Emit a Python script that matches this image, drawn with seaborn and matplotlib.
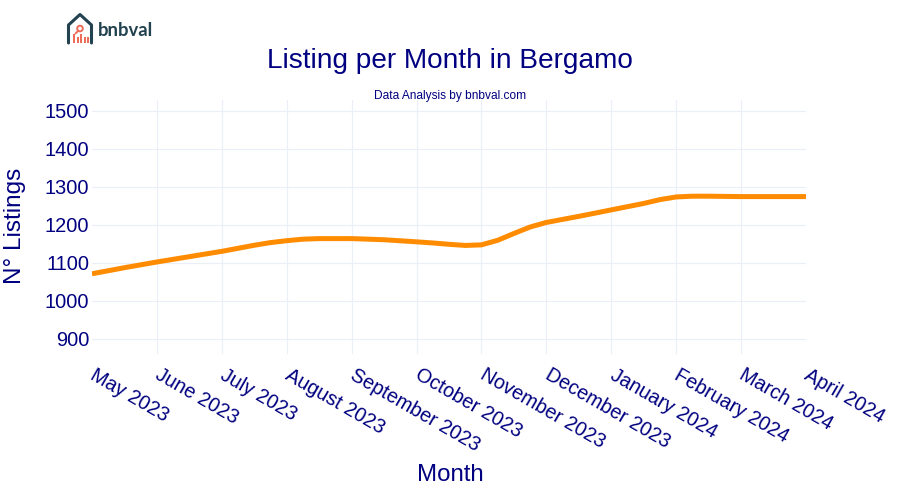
import matplotlib
matplotlib.use('Agg')
import pandas as pd
import seaborn as sns
import matplotlib.pyplot as plt
from matplotlib.patches import Circle, Rectangle

months = ['May 2023', 'June 2023', 'July 2023', 'August 2023', 'September 2023', 'October 2023',
          'November 2023', 'December 2023', 'January 2024', 'February 2024', 'March 2024', 'April 2024']
y_ticks = [900, 1000, 1100, 1200, 1300, 1400, 1500]

# closer together where the smoothed curve bends
month_pos = [0, 0.5, 1, 1.5, 2, 2.5, 2.75, 3, 3.25, 3.5, 4, 4.5, 5, 5.25, 5.5, 5.75, 6, 6.25, 6.5, 6.75, 7,
             7.5, 8, 8.5, 8.75, 9, 9.25, 9.5, 10, 11]
listings = [1071, 1087, 1102, 1116, 1130, 1146, 1153, 1158, 1162, 1163.5, 1163.5, 1160.5, 1155, 1152, 1148.5,
            1145.5, 1147, 1159, 1177, 1194, 1206, 1222, 1239, 1256, 1266, 1273, 1275, 1275, 1274, 1274]

navy = '#000080'
orange = '#FF8C00'
grid_col = '#EBF0F8'
dark_logo = '#23424F'
red_logo = '#EE6C5A'

sns.set_theme(style='white')
plt.rcParams['font.family'] = ['Liberation Sans', 'DejaVu Sans']

df = pd.DataFrame({'month': month_pos, 'listings': listings})

fig = plt.figure(figsize=(9, 5), dpi=100)
ax = fig.add_axes([92 / 900, 1 - 354 / 500, (806 - 92) / 900, (354 - 100) / 500])

sns.lineplot(data=df, x='month', y='listings', ax=ax, color=orange, linewidth=3.6,
             solid_joinstyle='round', solid_capstyle='butt', zorder=3)

ax.set_xlim(0, 11)
ax.set_ylim(860, 1528)
ax.set_yticks(y_ticks)
ax.set_xticks(range(len(months)))
ax.set_xticklabels(months, rotation=-30, ha='left', va='center', rotation_mode='anchor')
ax.tick_params(axis='x', labelsize=14.2, labelcolor=navy, length=0, pad=14)
ax.tick_params(axis='y', labelsize=14.4, labelcolor=navy, length=0, pad=2)

ax.grid(True, color=grid_col, linewidth=0.9)
ax.set_axisbelow(True)
xlines = ax.get_xgridlines()
xlines[0].set_visible(False)
xlines[-1].set_visible(False)
sns.despine(ax=ax, left=True, bottom=True)

ax.set_xlabel('')
ax.set_ylabel('')
fig.text(450 / 900, 1 - 475 / 500, 'Month', color=navy, fontsize=17.3, ha='center', va='center')
fig.text(15 / 900, 1 - 226 / 500, 'N° Listings', color=navy, fontsize=17.5, rotation=90, ha='center', va='center')
fig.text(450 / 900, 1 - 60.5 / 500, 'Listing per Month in Bergamo', color=navy, fontsize=20.2, ha='center', va='center')
fig.text(450 / 900, 1 - 96 / 500, 'Data Analysis by bnbval.com', color=navy, fontsize=8.6, ha='center', va='center')

# logo, drawn in pixel coordinates
logo = fig.add_axes([0, 0, 1, 1], zorder=5)
logo.set_xlim(0, 900)
logo.set_ylim(500, 0)
logo.axis('off')
logo.plot([68.5, 68.5, 80, 91.5, 91.5], [43, 25, 14.5, 25, 43], color=dark_logo, lw=2.2,
          solid_joinstyle='round', solid_capstyle='round')
logo.add_patch(Circle((80, 28.5), 2.8, fill=False, ec=red_logo, lw=1.4))
logo.plot([78, 75.5], [31, 33.5], color=red_logo, lw=1.4)
for bx, btop in zip([73, 76.5, 80, 83.5, 87], [34, 37, 34, 37, 37]):
    logo.add_patch(Rectangle((bx, btop), 2.4, 43 - btop, color=red_logo, lw=0))
logo.text(98, 35.5, 'bnbval', color=dark_logo, fontsize=13.3, fontweight='bold',
          family=['Lato', 'DejaVu Sans'], ha='left', va='baseline')

fig.savefig('out.png', dpi=100)
